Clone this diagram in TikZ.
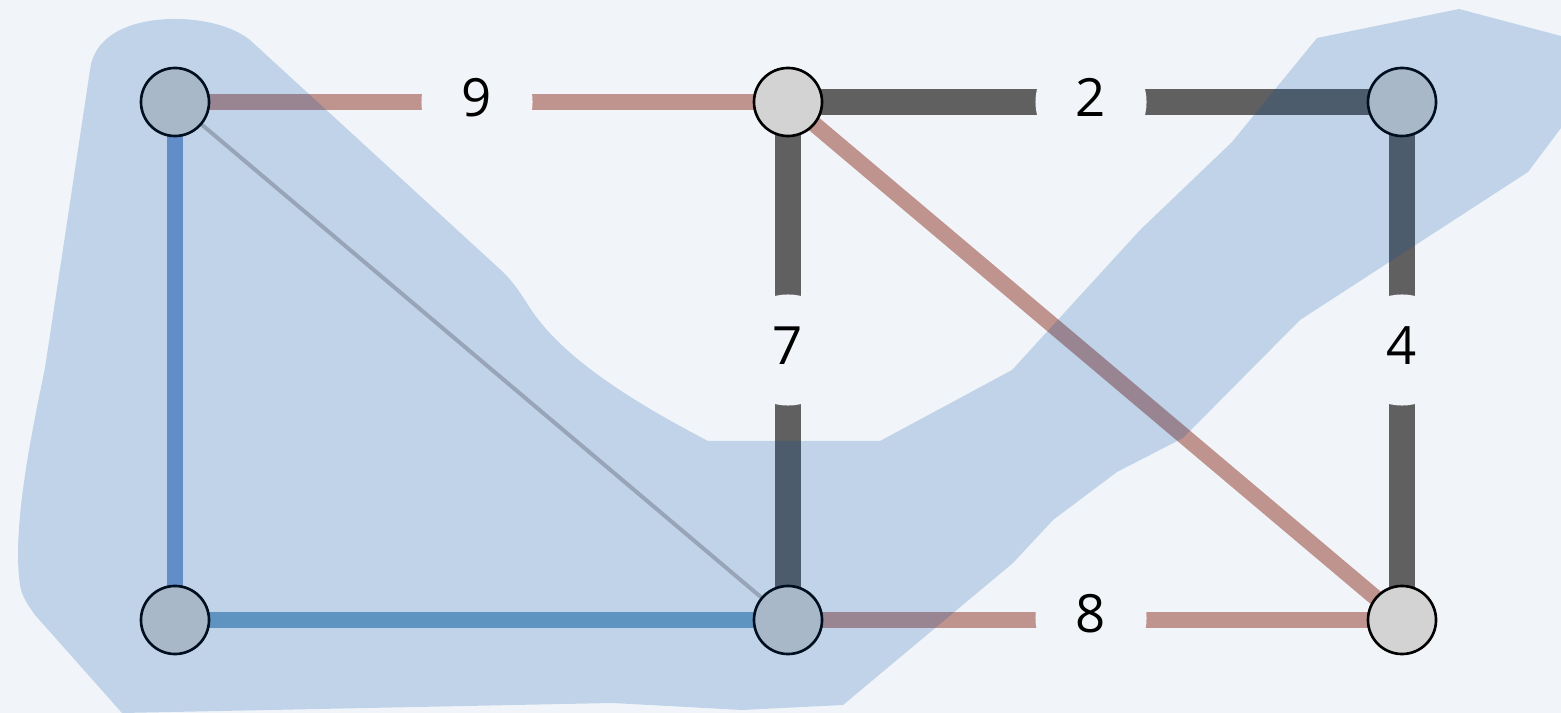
\documentclass[tikz,border=0pt]{standalone}
\usepackage{fontspec}
\newfontfamily\labelfont{Open Sans}
\pgfdeclarelayer{edgelayer}
\pgfdeclarelayer{hull}
\pgfsetlayers{edgelayer,main,hull}
\definecolor{canvas}{RGB}{241,245,249}
\definecolor{rosy}{RGB}{192,148,142}
\definecolor{slate}{RGB}{96,96,96}
\definecolor{bluev}{RGB}{122,158,209}
\definecolor{blueh}{RGB}{119,165,199}
\definecolor{thinline}{RGB}{190,188,190}
\definecolor{hullc}{RGB}{0,76,164}
\definecolor{vfill}{RGB}{211,211,211}
\begin{document}
\begin{tikzpicture}[x=0.01cm,y=-0.01cm,
  vertex/.style={circle,draw=black,line width=0.75pt,fill=vfill,minimum size=0.68cm,inner sep=0pt},
  weight/.style={circle,fill=canvas,minimum size=1.11cm,inner sep=0pt,
    text height=0.37cm,text depth=0.08cm,
    font=\labelfont\fontsize{15}{17}\selectfont},
  light/.style={draw=rosy,line width=0.16cm},
  heavy/.style={draw=slate,line width=0.26cm},
  treev/.style={draw=bluev,line width=0.16cm},
  treeh/.style={draw=blueh,line width=0.16cm},
  faint/.style={draw=thinline,line width=0.04cm},
  region/.style={fill=hullc,fill opacity=0.2}]

% weight labels (circles in canvas colour cut the edges)
\node[weight] (w9) at (477,102) {9};
\node[weight] (w2) at (1091,102) {2};
\node[weight] (w7) at (788,350) {7};
\node[weight] (w4) at (1402,350) {4};
\node[weight] (w8) at (1091,618) {8};

% vertices
\node[vertex] (a) at (175,102) {};
\node[vertex] (b) at (788,102) {};
\node[vertex] (c) at (1402,102) {};
\node[vertex] (d) at (175,620) {};
\node[vertex] (e) at (788,620) {};
\node[vertex] (f) at (1402,620) {};

\begin{pgfonlayer}{edgelayer}
  \fill[canvas] (0,0) rectangle (1561,713);
  \draw[light] (a.center) -- (b.center);
  \draw[light] (b.center) -- (f.center);
  \draw[light] (e.center) -- (f.center);
  \draw[heavy] (b.center) -- (c.center);
  \draw[heavy] (b.center) -- (e.center);
  \draw[heavy] (c.center) -- (f.center);
  \draw[treev] (a.center) -- (d.center);
  \draw[treeh] (d.center) -- (e.center);
  \draw[faint] (a.center) -- (e.center);
\end{pgfonlayer}

% translucent cluster region
\begin{pgfonlayer}{hull}
  \fill[region] (90,70) .. controls (95,30) and (140,18) .. (180,19)
    .. controls (210,20) and (235,28) .. (250,40)
    -- (503,272) .. controls (516,285) and (522,296) .. (530,308)
    .. controls (565,362) and (645,408) .. (708,441)
    -- (880,441) -- (1012,370) -- (1140,230) -- (1232,142) -- (1317,38)
    -- (1459,9) -- (1561,36) -- (1561,128) -- (1528,172) -- (1300,320)
    -- (1183,438) -- (1117,472) -- (1053,520) -- (1013,563) -- (843,705)
    -- (742,710) -- (612,703) -- (122,713) -- (35,615)
    .. controls (28,605) and (22,597) .. (20,585)
    .. controls (12,530) and (30,440) .. (45,368) -- cycle;
\end{pgfonlayer}
\end{tikzpicture}
\end{document}
